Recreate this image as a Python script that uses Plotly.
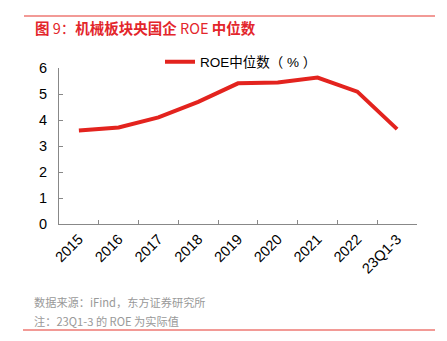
import plotly.graph_objects as go

categories = ["2015", "2016", "2017", "2018", "2019", "2020", "2021", "2022", "23Q1-3"]
roe_median = [3.60, 3.71, 4.10, 4.70, 5.41, 5.44, 5.63, 5.09, 3.65]
y_ticks = [0, 1, 2, 3, 4, 5, 6]

L, R, T, B = 59, 30, 68, 117
W, H = 447, 341
pw = W - L - R
ph = H - T - B

def px_x(px):
    return (px - L) / pw

def px_y(py):
    return (H - B - py) / ph

fig = go.Figure()
fig.add_trace(go.Scatter(
    x=categories, y=roe_median, mode="lines",
    name="ROE中位数（ % ）",
    line=dict(color="#e3231e", width=4),
))

font_fam = "Liberation Sans, Arial, Noto Sans CJK SC, sans-serif"

fig.update_layout(
    width=W, height=H,
    margin=dict(l=L, r=R, t=T, b=B),
    paper_bgcolor="white", plot_bgcolor="white",
    font=dict(family=font_fam, size=14, color="#000"),
    showlegend=True,
    legend=dict(
        orientation="h", x=px_x(160), y=px_y(62), xanchor="left", yanchor="middle",
        font=dict(size=13.5, color="#000"), bgcolor="rgba(0,0,0,0)",
    ),
    xaxis=dict(
        type="category", range=[-0.5, 8.5],
        showline=True, linecolor="#888", linewidth=1,
        ticks="inside", ticklen=4, tickcolor="#888",
        tickson="boundaries",
        showgrid=False, tickangle=-45,
        tickfont=dict(size=14.5, color="#000"),
    ),
    yaxis=dict(
        range=[0, 6], tickvals=y_ticks,
        showline=True, linecolor="#888", linewidth=1,
        ticks="inside", ticklen=4, tickcolor="#888",
        showgrid=False, zeroline=False,
        tickfont=dict(size=14.5, color="#000"),
        ticklabelstandoff=8,
    ),
)

fig.add_annotation(
    text="<b>图</b> 9：<b>机械板块央国企</b> ROE <b>中位数</b>",
    xref="paper", yref="paper", x=px_x(33), y=px_y(27.5),
    xanchor="left", yanchor="middle", showarrow=False,
    font=dict(size=14.5, color="#e3262b", family="Noto Sans CJK SC, sans-serif"),
)
fig.add_annotation(
    text="数据来源：iFind，东方证券研究所",
    xref="paper", yref="paper", x=px_x(32), y=px_y(302),
    xanchor="left", yanchor="middle", showarrow=False,
    font=dict(size=11.2, color="#999", family="Noto Sans CJK SC, sans-serif"),
)
fig.add_annotation(
    text="注：23Q1-3 的 ROE 为实际值",
    xref="paper", yref="paper", x=px_x(32), y=px_y(321),
    xanchor="left", yanchor="middle", showarrow=False,
    font=dict(size=11.2, color="#999", family="Noto Sans CJK SC, sans-serif"),
)
fig.add_shape(type="line", xref="paper", yref="paper",
              x0=px_x(24), x1=px_x(435), y0=px_y(16), y1=px_y(16),
              line=dict(color="#f29a96", width=2))
fig.add_shape(type="line", xref="paper", yref="paper",
              x0=px_x(23), x1=px_x(435), y0=px_y(330), y1=px_y(330),
              line=dict(color="#f29a96", width=2))

fig.write_html("out.html")
